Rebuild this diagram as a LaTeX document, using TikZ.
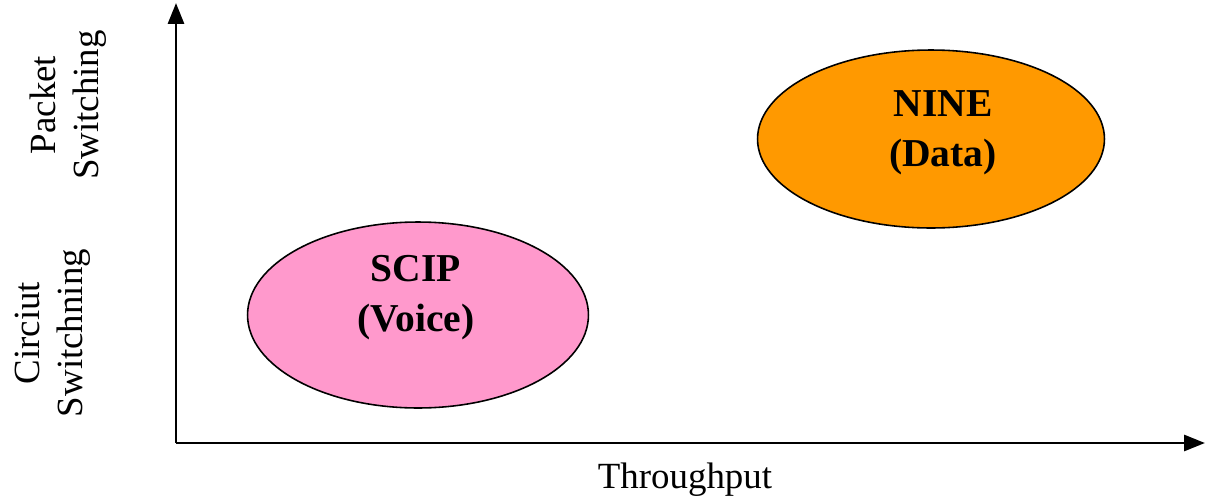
\documentclass[tikz,border=0pt]{standalone}
\usepackage{fontspec}
\setmainfont{Liberation Serif}
\usetikzlibrary{arrows.meta,positioning,shapes.geometric}
\definecolor{voicefill}{HTML}{FF99CC}
\definecolor{datafill}{HTML}{FF9900}

\begin{document}
\begin{tikzpicture}[x=0.02cm,y=-0.02cm,>={Triangle[length=0.42cm,width=0.32cm]},
 font=\fontsize{21}{24.5}\selectfont,
 blob/.style={draw,ellipse,line width=0.9pt,inner sep=0pt},
 tag/.style={font=\fontsize{22.5}{28.5}\selectfont\bfseries,align=center},
 side/.style={rotate=90,align=center}]
\useasboundingbox (0,0) rectangle (1205,501);
% axes
\coordinate (origin) at (176,443);
\coordinate (ytop) at (176,3);
\coordinate (xend) at (1205,443);
\draw[->,line width=1.7pt] (origin) -- (ytop);
\draw[->,line width=1.7pt] (origin) -- (xend);
\node (thru) at (685,480) {Throughput};
\node[side] (packet) at (68,105) {Packet\\Switching};
\node[side] (circuit) at (53,333) {Circiut\\Switchning};
% the two services
\node[blob,fill=voicefill,minimum width=6.82cm,minimum height=3.72cm] (scip) at (418,315) {};
\node[blob,fill=datafill,minimum width=6.94cm,minimum height=3.56cm] (nine) at (931,139) {};
\node[tag] (scipname) at (416,298) {SCIP\\(Voice)};
\node[tag] (ninename) at (943,133) {NINE\\(Data)};
\end{tikzpicture}
\end{document}
